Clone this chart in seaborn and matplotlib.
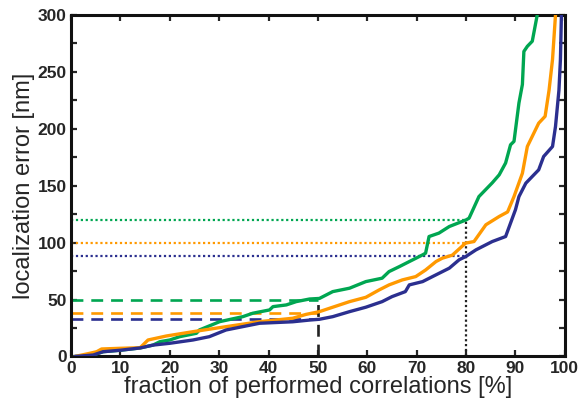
import matplotlib
matplotlib.use("Agg")
import matplotlib.pyplot as plt
import seaborn as sns

# cumulative localization error curves
green_x = [0.8, 4.5, 6.5, 10, 14, 16.6, 18, 20, 22, 25.4, 26, 30.1, 34.8, 36.8, 40.2,
           40.9, 43.6, 45.6, 48.3, 50.3, 53, 56.4, 59.7, 63, 64.4, 66.5, 68.5, 71.2, 71.8,
           72.5, 74.5, 76.6, 80, 80.6, 82.6, 85.3, 86.7, 88, 89, 89.7, 90.7, 91.4, 91.7,
           92.4, 93.4, 94.4]
green_y = [0, 1.3, 4.2, 5.5, 7.5, 10, 13, 14.5, 17.4, 20.4, 23.3, 30.6, 35, 38, 40.9,
           43.8, 45.3, 48.2, 50.5, 51, 57, 60, 65.8, 68.8, 74.6, 79, 83.4, 89.3, 90.8,
           105.4, 108.4, 114.2, 120, 121.5, 140.5, 152.6, 159.6, 170, 186, 189, 222.7, 239, 268,
           272.5, 277, 300]

orange_x = [0.8, 3.8, 5.2, 6.2, 10, 14, 15.6, 19.3, 24.7, 31.4, 38.2, 44.9, 47.6, 50.3,
            53, 56.4, 59.7, 62.4, 64.4, 67.1, 69.8, 71.8, 73.9, 75.2, 77.2, 79.9, 81.6, 84,
            86.7, 88.4, 89.7, 91.4, 92.4, 94.7, 96, 96.8, 97.5, 98.1]
orange_y = [0, 2.8, 4.2, 6.6, 7.2, 7.7, 14.5, 18, 21.8, 26.2, 30.6, 33.6, 37, 39.4,
            43.3, 48.2, 52, 58.5, 62.9, 67.3, 70.2, 76, 83.4, 86.4, 89, 99.6, 101, 115.7,
            123, 127, 140.5, 161, 184.5, 205, 211, 234, 261, 300]

blue_x = [0.8, 4.5, 6.5, 10, 14, 16.6, 20, 24.7, 28, 31.4, 38.2, 44.9, 48.3, 50.3, 53,
          56.4, 59.7, 63, 65, 67.7, 68.5, 71.2, 73.2, 76.6, 78.6, 80, 82, 85.3, 88, 90,
          90.7, 92.1, 94.7, 95.7, 97.5, 98.1, 98.8, 99.1, 99.3]
blue_y = [0, 1.3, 4.2, 5.5, 7.5, 10, 11.6, 14.5, 17.4, 23.3, 29.2, 30.5, 32, 32.7, 35,
          39.4, 43.3, 48.2, 52.6, 57, 62.9, 65.8, 70.2, 77.6, 85, 88, 93.7, 101, 105.4, 129,
          140.5, 152.3, 164, 175.7, 184.5, 202, 234, 261, 300]

# levels reached at 50 % and 80 % of correlations (green, orange, blue)
level_50 = [50, 38.5, 32.5]
level_80 = [120, 100, 88]
fractions = [50, 80]

colors = ["#00A651", "#FF9900", "#2B2F8F"]

sns.set_style("ticks")
plt.rcParams["font.family"] = ["Liberation Sans", "DejaVu Sans"]

fig = plt.figure(figsize=(5.79, 4.01), dpi=100)
ax = fig.add_axes([0.1226, 0.111, 0.853, 0.8515])

# reference lines
for lev, c in zip(level_50, colors):
    ax.hlines(lev, 0, fractions[0], colors=c, lw=1.9, linestyles=(0, (4.5, 3.0)), zorder=1)
for lev, c in zip(level_80, colors):
    ax.hlines(lev, 0, fractions[1], colors=c, lw=1.6, linestyles=(0, (1.0, 1.2)), zorder=1)
ax.vlines(fractions[0], 0, level_50[0], colors="#222222", lw=1.9,
          linestyles=(0, (4.5, 3.0)), zorder=1)
ax.vlines(fractions[1], 0, level_80[0], colors="#222222", lw=1.6,
          linestyles=(0, (1.0, 1.2)), zorder=1)

for xs, ys, c in [(green_x, green_y, colors[0]),
                  (orange_x, orange_y, colors[1]),
                  (blue_x, blue_y, colors[2])]:
    sns.lineplot(x=xs, y=ys, color=c, lw=2.4, ax=ax, estimator=None, sort=False, zorder=3)

ax.set_xlim(0, 100)
ax.set_ylim(0, 300)
ax.set_xticks(range(0, 101, 10))
ax.set_yticks(range(0, 301, 50))
ax.set_yticks(range(25, 300, 50), minor=True)

ax.tick_params(which="both", direction="in", top=True, right=True,
               length=4, width=1.6, labelsize=12.5, pad=3)
for lbl in ax.get_xticklabels() + ax.get_yticklabels():
    lbl.set_fontweight("bold")
for sp in ax.spines.values():
    sp.set_linewidth(2.2)
    sp.set_color("#111111")

ax.set_xlabel("fraction of performed correlations [%]", fontsize=17, labelpad=0)
ax.set_ylabel("localization error [nm]", fontsize=17, labelpad=2)

fig.savefig("out.png", dpi=100)
